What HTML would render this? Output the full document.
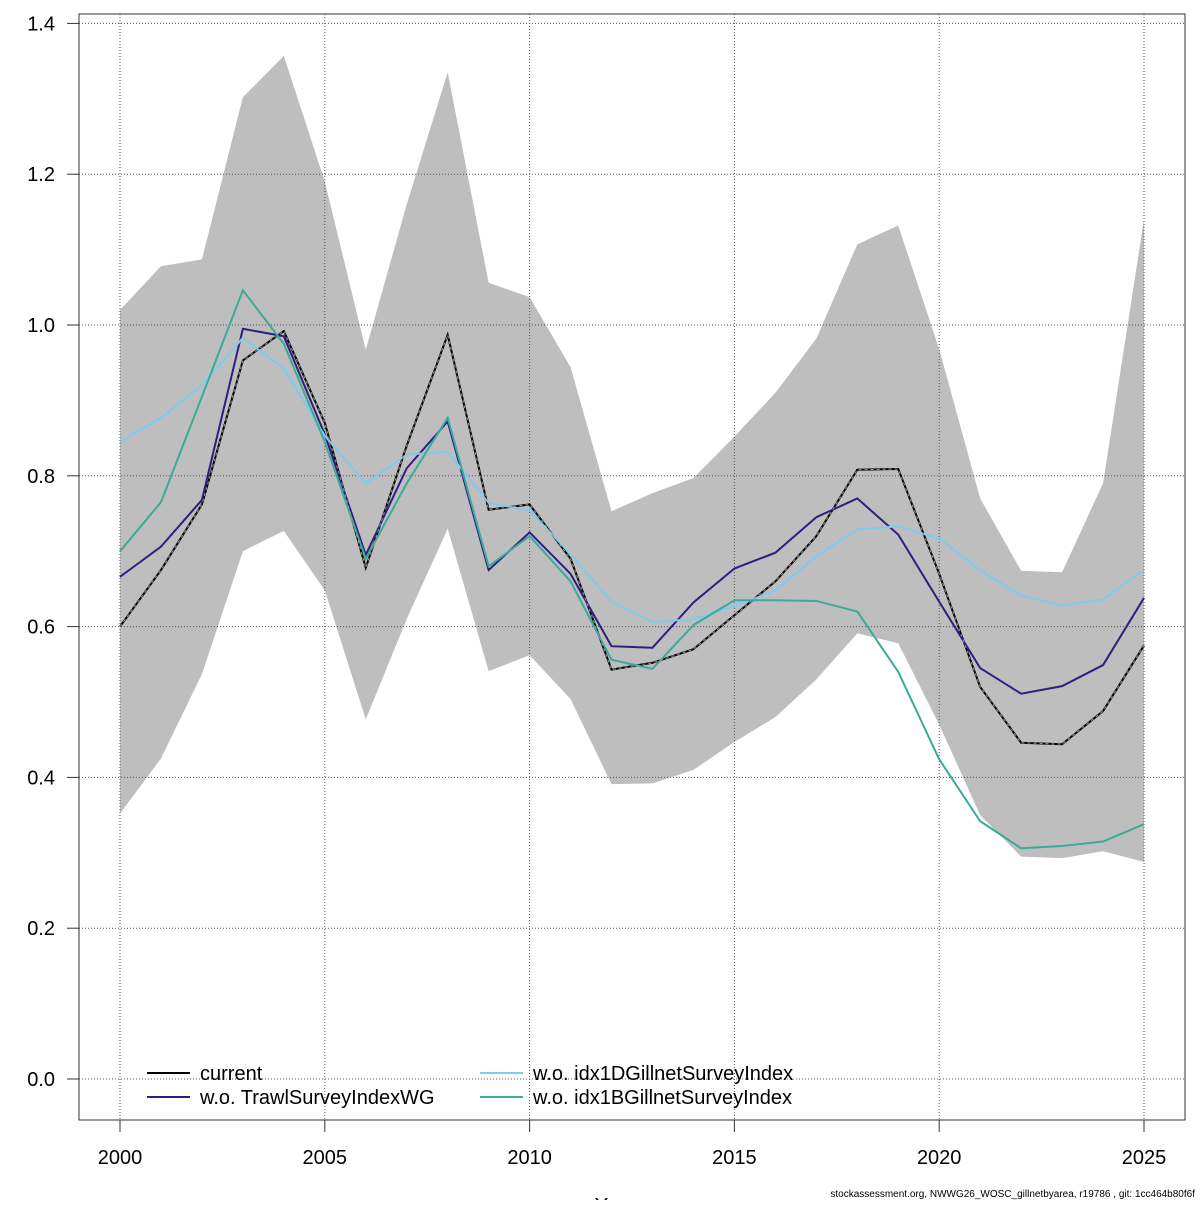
<!DOCTYPE html>
<html><head><meta charset="utf-8"><style>
body{margin:0;background:#fff}
svg text{font-family:"Liberation Sans",sans-serif}
</style></head><body>
<svg id="chart" width="1200" height="1200" xmlns="http://www.w3.org/2000/svg">
<g id="band"></g>
<g id="grid"></g>
<g id="lines"></g>
<rect x="79" y="14" width="1106" height="1106" fill="none" stroke="#333" stroke-width="1"/>
<g id="axes"></g>
<g font-size="20">
<line x1="147" y1="1073" x2="190" y2="1073" stroke="#000" stroke-width="2"/>
<text x="200" y="1080">current</text>
<line x1="147" y1="1097" x2="190" y2="1097" stroke="#2d1e80" stroke-width="2"/>
<text x="200" y="1104">w.o. TrawlSurveyIndexWG</text>
<line x1="480" y1="1073" x2="523" y2="1073" stroke="#7fcbee" stroke-width="2"/>
<text x="533" y="1080">w.o. idx1DGillnetSurveyIndex</text>
<line x1="480" y1="1097" x2="523" y2="1097" stroke="#3aab98" stroke-width="2"/>
<text x="533" y="1104">w.o. idx1BGillnetSurveyIndex</text>
</g>
<text x="615" y="1212" font-size="20" text-anchor="middle">Year</text>
<text x="1195" y="1197" font-size="10" text-anchor="end">stockassessment.org, NWWG26_WOSC_gillnetbyarea, r19786 , git: 1cc464b80f6f</text>
</svg>
<script>
const years=[2000,2001,2002,2003,2004,2005,2006,2007,2008,2009,2010,2011,2012,2013,2014,2015,2016,2017,2018,2019,2020,2021,2022,2023,2024,2025];
const current=[0.60,0.675,0.762,0.953,0.992,0.87,0.678,0.84,0.987,0.755,0.762,0.69,0.543,0.552,0.57,0.615,0.66,0.72,0.808,0.809,0.67,0.52,0.446,0.444,0.488,0.575];
const upper=[1.02,1.078,1.087,1.302,1.357,1.19,0.967,1.16,1.335,1.056,1.037,0.944,0.753,0.777,0.797,0.852,0.91,0.982,1.107,1.132,0.968,0.77,0.674,0.672,0.79,1.14];
const lower=[0.352,0.425,0.537,0.70,0.727,0.648,0.477,0.61,0.73,0.541,0.562,0.504,0.391,0.392,0.41,0.447,0.48,0.53,0.591,0.578,0.47,0.35,0.295,0.293,0.302,0.288];
const trawl=[0.666,0.706,0.768,0.995,0.985,0.855,0.695,0.81,0.872,0.675,0.725,0.67,0.574,0.572,0.632,0.677,0.698,0.745,0.770,0.722,0.633,0.545,0.511,0.521,0.549,0.638];
const idx1d=[0.845,0.877,0.92,0.983,0.942,0.853,0.79,0.828,0.832,0.764,0.754,0.696,0.633,0.606,0.61,0.627,0.648,0.693,0.729,0.733,0.717,0.675,0.641,0.628,0.636,0.675];
const idx1b=[0.70,0.765,0.905,1.046,0.975,0.845,0.69,0.79,0.877,0.68,0.72,0.66,0.556,0.544,0.602,0.635,0.635,0.634,0.62,0.54,0.424,0.342,0.306,0.309,0.315,0.338];
const xTicks=[2000,2005,2010,2015,2020,2025];
const yTicks=[0.0,0.2,0.4,0.6,0.8,1.0,1.2,1.4];
const yTickLabels=["0.0","0.2","0.4","0.6","0.8","1.0","1.2","1.4"];

const NS="http://www.w3.org/2000/svg";
function X(v){return 120+(v-2000)*(1144-120)/25;}
function Y(v){return 1079-v*754;}
function mk(tag,attrs,parent){const e=document.createElementNS(NS,tag);for(const k in attrs)e.setAttribute(k,attrs[k]);parent.appendChild(e);return e;}

const band=document.getElementById('band');
let pts=years.map((y,i)=>X(y)+','+Y(upper[i]));
for(let i=years.length-1;i>=0;i--)pts.push(X(years[i])+','+Y(lower[i]));
const poly=mk('polygon',{points:pts.join(' '),fill:'#bebebe',stroke:'none'},band);



const grid=document.getElementById('grid');
const axes=document.getElementById('axes');
xTicks.forEach(t=>{
  const g=mk('line',{x1:X(t),x2:X(t),y1:14,y2:1120,stroke:'#555','stroke-dasharray':'1,2','stroke-width':1},grid);
  
  
  const tk=mk('line',{x1:X(t),x2:X(t),y1:1120,y2:1132,stroke:'#333'},axes);
  
  
  const tx=mk('text',{x:X(t),y:1164,'font-size':20,'text-anchor':'middle'},axes);
  tx.textContent=t;
  
  
});
yTicks.forEach((t,i)=>{
  const g=mk('line',{x1:79,x2:1185,y1:Y(t),y2:Y(t),stroke:'#555','stroke-dasharray':'1,2','stroke-width':1},grid);
  
  
  const tk=mk('line',{x1:67,x2:79,y1:Y(t),y2:Y(t),stroke:'#333'},axes);
  
  
  const tx=mk('text',{x:55,y:Y(t)+7,'font-size':20,'text-anchor':'end'},axes);
  tx.textContent=yTickLabels[i];
  
  
});

const lines=document.getElementById('lines');
function path(arr){return years.map((y,i)=>(i?'L':'M')+X(y)+','+Y(arr[i])).join(' ');}
const l1=mk('path',{d:path(current),fill:'none',stroke:'#000','stroke-width':2},lines);


const l2=mk('path',{d:path(trawl),fill:'none',stroke:'#2d1e80','stroke-width':2},lines);


const l3=mk('path',{d:path(idx1d),fill:'none',stroke:'#7fcbee','stroke-width':2},lines);


const l4=mk('path',{d:path(idx1b),fill:'none',stroke:'#3aab98','stroke-width':2},lines);


const l5=mk('path',{d:path(current),fill:'none',stroke:'#999','stroke-width':1,'stroke-dasharray':'3,3'},lines);


</script>
</body></html>
